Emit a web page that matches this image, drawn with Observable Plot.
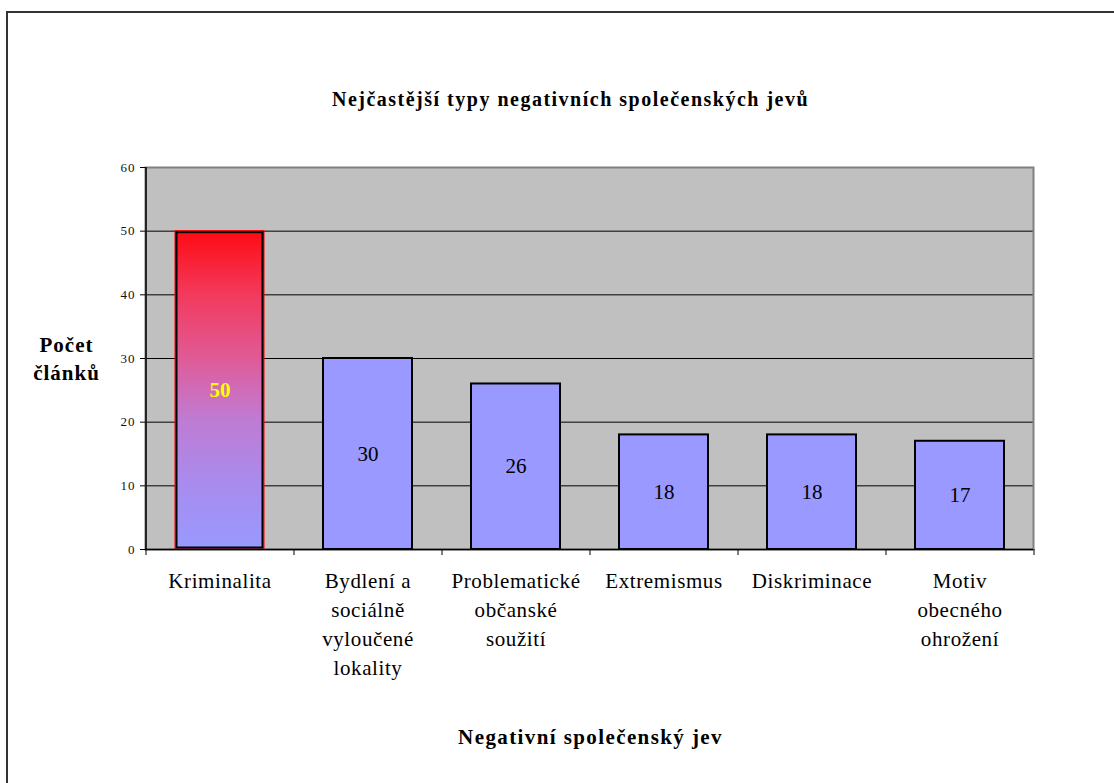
<!DOCTYPE html>
<html>
<head>
<meta charset="utf-8">
<script src="https://cdn.jsdelivr.net/npm/d3@7"></script>
<script src="https://cdn.jsdelivr.net/npm/@observablehq/plot@0.6"></script>
<style>
  html, body { margin: 0; padding: 0; background: #fff; overflow: hidden; width: 1114px; height: 783px; }
  #wrap { position: relative; width: 1114px; height: 783px; }
  #wrap svg { position: absolute; left: 0; top: 0; }
  #outer { position: absolute; left: 6px; top: 11px; width: 2000px; height: 2000px;
           border-left: 2px solid #333; border-top: 2px solid #333; pointer-events: none; z-index: 2; }
  #wrap svg text { font-family: 'Liberation Serif', 'Times New Roman', Times, serif; }
  g[aria-description="title"] text { letter-spacing: 1.5px; }
  g[aria-description="x-title"] text { letter-spacing: 1.4px; }
  g[aria-description="y-title"] text { letter-spacing: 1px; }
  g[aria-description="x-labels"] text { letter-spacing: 0.6px; }
  g[aria-description="y-axis"] text { letter-spacing: 1px; }
</style>
</head>
<body>
<div id="wrap"><div id="outer"></div></div>
<script>
// ---- data ----
const categories = [
  "Kriminalita",
  "Bydlení a sociálně vyloučené lokality",
  "Problematické občanské soužití",
  "Extremismus",
  "Diskriminace",
  "Motiv obecného ohrožení"
];
const tickLabels = [
  "Kriminalita",
  "Bydlení a\nsociálně\nvyloučené\nlokality",
  "Problematické\nobčanské\nsoužití",
  "Extremismus",
  "Diskriminace",
  "Motiv\nobecného\nohrožení"
];
const counts = [50, 30, 26, 18, 18, 17];
const yTicks = [0, 10, 20, 30, 40, 50, 60];
const gridValues = [10, 20, 30, 40, 50];
const titleText = "Nejčastější typy negativních společenských jevů";
const xTitleText = "Negativní společenský jev";
const yTitleText = "Počet\nčlánků";

// ---- build ----
const data = categories.map((c, i) => ({cat: c, label: tickLabels[i], value: counts[i], highlight: i === 0}));
const hi = data.filter(d => d.highlight);
const rest = data.filter(d => !d.highlight);

const W = 1114, H = 783;
const mL = 145, mR = 81, mT = 167, mB = 234;
const step = (W - mL - mR) / categories.length;
const frameH = H - mT - mB;
const serif = "'Liberation Serif', 'Times New Roman', Times, serif";

const svg = Plot.plot({
  width: W,
  height: H,
  marginLeft: mL,
  marginRight: mR,
  marginTop: mT,
  marginBottom: mB,
  style: {fontFamily: serif, background: "transparent", color: "#000", overflow: "visible"},
  x: {domain: categories, paddingInner: 0.4, paddingOuter: 0.2, axis: null},
  y: {domain: [0, 60], axis: null},
  marks: [
    Plot.frame({fill: "#c0c0c0"}),
    Plot.ruleY(gridValues, {stroke: "#000", strokeWidth: 1}),
    Plot.frame({stroke: "#808080", strokeWidth: 2}),
    Plot.barY(hi, {x: "cat", y: "value", fill: "#fe0001", stroke: "#ff0000", strokeWidth: 1, ariaDescription: "highlight"}),
    Plot.barY(hi, {x: "cat", y: "value", fill: "none", stroke: "#000", strokeWidth: 2, inset: 1.5}),
    Plot.barY(rest, {x: "cat", y: "value", fill: "#9999ff", stroke: "#000", strokeWidth: 2}),
    Plot.ruleY([0], {stroke: "#000", strokeWidth: 1.5}),
    // y axis line
    Plot.ruleX([categories[0]], {x: d => d, dx: -step / 2, stroke: "#000", strokeWidth: 1.5}),
    // category boundary ticks below x axis
    Plot.ruleX(categories, {x: d => d, dx: -step / 2, insetTop: frameH, insetBottom: -6, stroke: "#000", strokeWidth: 1}),
    Plot.ruleX([categories[categories.length - 1]], {x: d => d, dx: step / 2, insetTop: frameH, insetBottom: -6, stroke: "#000", strokeWidth: 1}),
    Plot.axisY(yTicks, {tickSize: 5, tickPadding: 5, fontSize: 13, fontFamily: serif, stroke: "#000", fill: "#111", label: null, ariaDescription: "y-axis"}),
    // value labels
    Plot.text(hi, {x: "cat", y: d => d.value / 2, text: d => String(d.value), fill: "#ffff00", fontSize: 21, fontWeight: "bold", fontFamily: serif}),
    Plot.text(rest, {x: "cat", y: d => d.value / 2, text: d => String(d.value), fill: "#000", fontSize: 21, fontFamily: serif}),
    // category labels
    Plot.text(data, {x: "cat", text: "label", frameAnchor: "bottom", lineAnchor: "top", textAnchor: "middle", dy: 18, lineHeight: 1.38, fontSize: 21, fontFamily: serif, fill: "#000", ariaDescription: "x-labels"}),
    // titles
    Plot.text([titleText], {text: d => d, frameAnchor: "top", textAnchor: "middle", lineAnchor: "middle", dx: -19, dy: -68, fontSize: 20, fontWeight: "bold", fontFamily: serif, fill: "#000", ariaDescription: "title"}),
    Plot.text([xTitleText], {text: d => d, frameAnchor: "bottom", textAnchor: "middle", lineAnchor: "middle", dx: 1, dy: 188, fontSize: 21, fontWeight: "bold", fontFamily: serif, fill: "#000", ariaDescription: "x-title"}),
    Plot.text([yTitleText], {text: d => d, frameAnchor: "left", textAnchor: "middle", lineAnchor: "middle", dx: -79, dy: -1, lineHeight: 1.33, fontSize: 21, fontWeight: "bold", fontFamily: serif, fill: "#000", ariaDescription: "y-title"})
  ]
});

// gradient fill for the highlighted bar
const ns = "http://www.w3.org/2000/svg";
const defs = document.createElementNS(ns, "defs");
const grad = document.createElementNS(ns, "linearGradient");
grad.setAttribute("id", "redGrad");
grad.setAttribute("x1", "0"); grad.setAttribute("y1", "0");
grad.setAttribute("x2", "0"); grad.setAttribute("y2", "1");
[["0", "#ff0a14"], ["0.2", "#f23a5c"], ["0.4", "#e05a96"], ["0.5", "#cf6cb8"], ["0.6", "#be7cd4"], ["0.8", "#a88cee"], ["1", "#9999ff"]]
  .forEach(([o, c]) => {
    const s = document.createElementNS(ns, "stop");
    s.setAttribute("offset", o);
    s.setAttribute("stop-color", c);
    grad.appendChild(s);
  });
defs.appendChild(grad);
svg.insertBefore(defs, svg.firstChild);
svg.querySelectorAll('[fill="#fe0001"]').forEach(el => el.setAttribute("fill", "url(#redGrad)"));

document.getElementById("wrap").insertBefore(svg, document.getElementById("outer"));
</script>
</body>
</html>
